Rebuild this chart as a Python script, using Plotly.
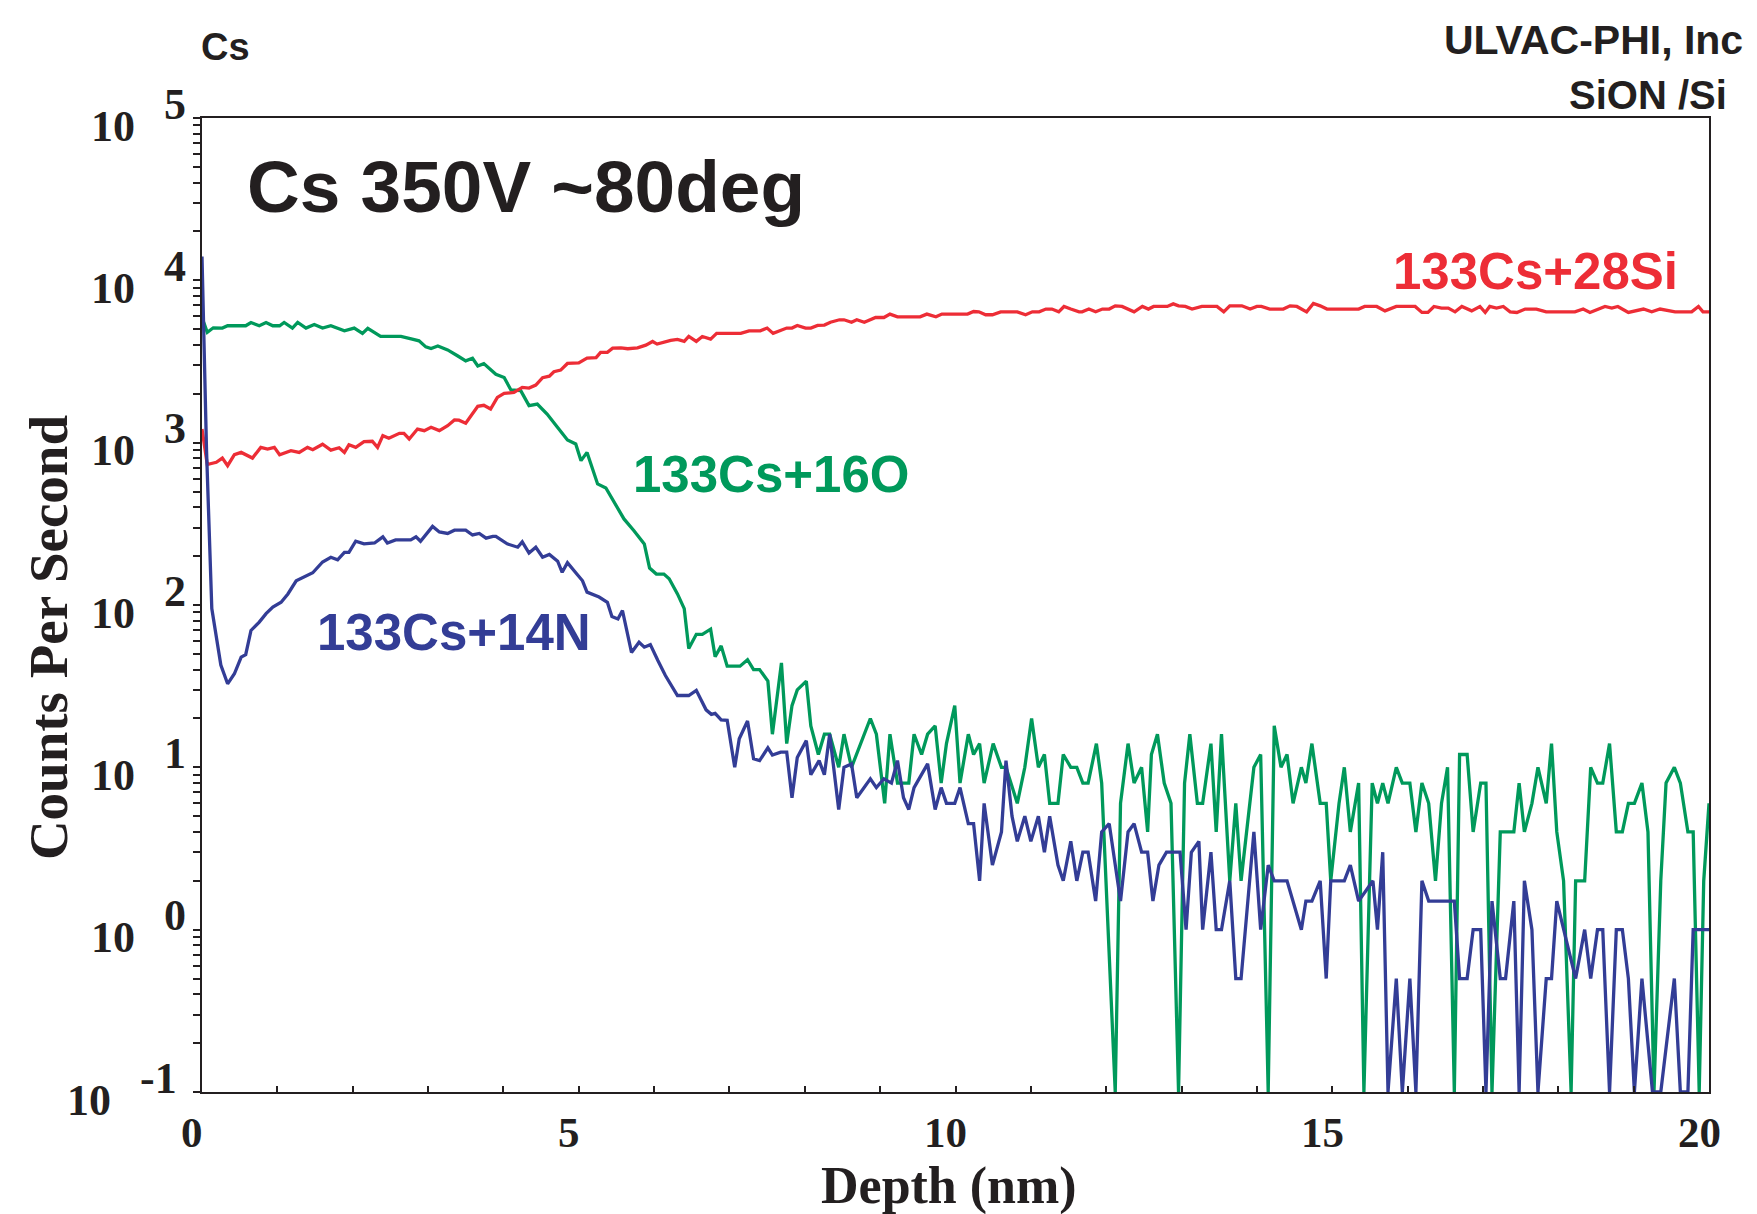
import plotly.graph_objects as go

# ---------------- data ----------------
red_depth = [0.00, 0.07, 0.19, 0.27, 0.34, 0.43, 0.52, 0.67, 0.78, 0.87, 0.96, 1.03, 1.18, 1.29, 1.40, 1.47,
             1.60, 1.71, 1.82, 1.89, 1.95, 2.04, 2.15, 2.26, 2.33, 2.40, 2.48, 2.62, 2.68, 2.75, 2.86, 2.95,
             3.04, 3.15, 3.26, 3.35, 3.41, 3.50, 3.66, 3.74, 3.83, 3.92, 4.01, 4.14, 4.25, 4.34, 4.43, 4.52,
             4.61, 4.67, 4.76, 4.85, 5.00, 5.11, 5.23, 5.29, 5.38, 5.45, 5.56, 5.65, 5.78, 5.89, 5.98, 6.04,
             6.22, 6.31, 6.40, 6.46, 6.56, 6.64, 6.75, 6.83, 7.15, 7.26, 7.41, 7.50, 7.58, 7.68, 7.76, 7.83,
             7.90, 8.01, 8.08, 8.17, 8.26, 8.34, 8.46, 8.52, 8.62, 8.69, 8.79, 8.94, 9.05, 9.13, 9.23, 9.53,
             9.62, 9.74, 9.82, 10.16, 10.24, 10.31, 10.40, 10.49, 10.60, 10.82, 10.93, 11.02, 11.11, 11.20,
             11.28, 11.37, 11.44, 11.53, 11.64, 11.68, 11.77, 11.86, 11.95, 12.04, 12.12, 12.21, 12.28, 12.37,
             12.48, 12.56, 12.63, 12.81, 12.89, 12.96, 13.05, 13.14, 13.27, 13.47, 13.56, 13.64, 13.80, 13.91,
             14.00, 14.06, 14.17, 14.35, 14.44, 14.53, 14.66, 14.75, 14.84, 14.93, 15.35, 15.43, 15.59, 15.70,
             15.85, 16.10, 16.19, 16.27, 16.35, 16.45, 16.54, 16.63, 16.72, 16.85, 16.96, 17.03, 17.09, 17.18,
             17.27, 17.36, 17.45, 17.56, 17.71, 17.84, 18.22, 18.33, 18.42, 18.53, 18.62, 18.71, 18.79, 18.93,
             19.04, 19.13, 19.24, 19.35, 19.55, 19.77, 19.86, 19.92, 20.00]
red_cps = [1213, 733, 757, 804, 721, 843, 871, 804, 935, 912, 935, 843, 892, 871, 935, 905,
           978, 900, 930, 871, 970, 935, 1014, 1020, 935, 1104, 1064, 1142, 1142, 1054, 1213, 1186,
           1243, 1186, 1273, 1380, 1375, 1318, 1675, 1700, 1612, 1900, 2010, 2040, 2190, 2170, 2265, 2515,
           2570, 2735, 2800, 3075, 3100, 3320, 3340, 3600, 3600, 3820, 3840, 3790, 3840, 3990, 4200, 4050,
           4270, 4330, 4210, 4510, 4207, 4508, 4345, 4710, 4710, 4887, 4887, 5080, 4710, 4887, 5080, 5080,
           5272, 5080, 5080, 5272, 5300, 5520, 5715, 5715, 5520, 5715, 5520, 5902, 5902, 6194, 5957, 5957,
           6194, 5957, 6194, 6194, 6427, 6400, 6138, 6138, 6397, 6397, 6138, 6397, 6397, 6653,
           6653, 6397, 6902, 6653, 6397, 6397, 6653, 6397, 6653, 6653, 6966, 6902, 6653, 6397,
           6902, 6653, 6902, 6902, 7161, 6966, 6902, 6653, 6902, 6902, 6397, 6966, 6966, 6653,
           6902, 6902, 6653, 6653, 6966, 6902, 6397, 7194, 6966, 6653, 6653, 6902, 6902, 6486,
           6902, 6902, 6339, 6339, 6902, 6745, 6745, 6397, 6902, 6486, 6902, 6339, 6902, 6745,
           6902, 6397, 6339, 6653, 6653, 6397, 6397, 6653, 6339, 6653, 6902, 6745, 6902, 6339,
           6486, 6653, 6397, 6653, 6397, 6397, 6902, 6397, 6397]

green_depth = [0.00, 0.07, 0.15, 0.27, 0.34, 0.58, 0.65, 0.76, 0.85, 0.94, 1.03, 1.09, 1.20, 1.27, 1.38, 1.49,
               1.60, 1.71, 1.89, 2.02, 2.13, 2.20, 2.37, 2.64, 2.79, 2.88, 2.97, 3.04, 3.13, 3.26, 3.39, 3.50,
               3.59, 3.66, 3.74, 3.90, 4.01, 4.10, 4.23, 4.34, 4.45, 4.58, 4.72, 4.85, 4.96, 5.03, 5.11, 5.25,
               5.36, 5.47, 5.60, 5.73, 5.87, 5.94, 6.03, 6.13, 6.20, 6.31, 6.40, 6.46, 6.56, 6.64, 6.75, 6.81,
               6.89, 6.97, 7.14, 7.24, 7.32, 7.40, 7.51, 7.57, 7.69, 7.76, 7.83, 7.90, 8.02, 8.08, 8.18, 8.26,
               8.33, 8.45, 8.52, 8.62, 8.87, 8.95, 9.06, 9.13, 9.23, 9.38, 9.45, 9.55, 9.63, 9.73, 9.81, 9.88,
               9.99, 10.06, 10.17, 10.24, 10.32, 10.38, 10.50, 10.61, 10.67, 10.82, 10.92, 11.01, 11.10, 11.18,
               11.25, 11.36, 11.43, 11.53, 11.61, 11.69, 11.76, 11.87, 11.94, 12.12, 12.19, 12.29, 12.37, 12.47,
               12.55, 12.60, 12.68, 12.77, 12.86, 12.96, 13.04, 13.11, 13.21, 13.28, 13.39, 13.46, 13.53, 13.64,
               13.72, 13.79, 13.90, 13.96, 14.05, 14.15, 14.23, 14.32, 14.40, 14.48, 14.59, 14.65, 14.73, 14.84,
               14.92, 14.98, 15.09, 15.16, 15.24, 15.35, 15.42, 15.53, 15.60, 15.67, 15.74, 15.85, 15.93, 16.03,
               16.11, 16.19, 16.28, 16.37, 16.45, 16.53, 16.62, 16.69, 16.79, 16.87, 16.97, 17.04, 17.12, 17.23,
               17.41, 17.48, 17.55, 17.65, 17.73, 17.84, 17.91, 17.98, 18.07, 18.17, 18.23, 18.35, 18.43, 18.52,
               18.59, 18.68, 18.77, 18.85, 18.93, 19.01, 19.11, 19.19, 19.27, 19.36, 19.43, 19.54, 19.62, 19.72,
               19.79, 19.87, 19.93, 20.00]
green_cps = [5900, 4780, 5100, 5080, 5250, 5250, 5500, 5250, 5500, 5250, 5250, 5500, 5080, 5500, 5080, 5350,
             5080, 5250, 4890, 5080, 4710, 5060, 4510, 4510, 4340, 4240, 3890, 3800, 3940, 3730, 3430, 3190,
             3310, 2970, 3070, 2640, 2520, 2110, 2090, 1690, 1730, 1500, 1240, 1040, 981, 775, 871, 557,
             526, 430, 339, 288, 238, 169, 155, 155, 145, 117, 95, 54, 66, 66, 71, 48,
             56, 42, 42, 46, 40, 40, 34, 16, 44, 14, 24, 30, 34, 18, 12, 16,
             16, 10, 16, 10, 20, 16, 6, 16, 8, 8, 16, 12, 16, 18, 8, 14,
             24, 8, 16, 12, 14, 8, 14, 10, 10, 6, 10, 20, 10, 12,
             6, 6, 12, 10, 10, 8, 8, 14, 8, 0, 6, 14, 8, 10,
             4, 12, 16, 8, 6, 0, 8, 16, 6, 6, 14, 4, 16, 2,
             6, 2, 6, 10, 12, 0, 18, 10, 12, 6, 10, 8, 14, 6,
             6, 2, 6, 10, 4, 8, 0, 8, 6, 8, 6, 10, 8, 8,
             4, 8, 6, 2, 6, 10, 0, 12, 12, 4, 8, 8, 0, 4,
             4, 8, 4, 6, 10, 6, 14, 4, 2, 0, 2, 2, 10, 8,
             8, 14, 4, 4, 6, 6, 8, 4, 0, 2, 8, 10, 8, 4,
             4, 0, 2, 6]

blue_depth = [0.00, 0.06, 0.13, 0.25, 0.34, 0.43, 0.52, 0.58, 0.65, 0.76, 0.85, 0.94, 1.05, 1.14, 1.25, 1.38,
              1.47, 1.60, 1.71, 1.80, 1.89, 1.95, 2.04, 2.15, 2.29, 2.40, 2.46, 2.57, 2.77, 2.84, 2.90, 3.06,
              3.15, 3.26, 3.35, 3.50, 3.59, 3.68, 3.77, 3.86, 3.90, 4.05, 4.19, 4.25, 4.34, 4.43, 4.52, 4.61,
              4.72, 4.78, 4.85, 4.98, 5.05, 5.11, 5.27, 5.38, 5.44, 5.52, 5.58, 5.70, 5.80, 5.87, 5.95, 6.05,
              6.15, 6.31, 6.46, 6.56, 6.69, 6.76, 6.81, 6.89, 6.97, 7.07, 7.13, 7.24, 7.32, 7.40, 7.51, 7.57,
              7.68, 7.76, 7.83, 7.90, 8.02, 8.08, 8.19, 8.26, 8.33, 8.45, 8.52, 8.62, 8.69, 8.87, 8.95, 9.05,
              9.15, 9.23, 9.31, 9.38, 9.45, 9.63, 9.73, 9.81, 9.88, 9.99, 10.06, 10.17, 10.24, 10.32, 10.38, 10.49,
              10.61, 10.67, 10.75, 10.82, 10.92, 11.00, 11.10, 11.18, 11.25, 11.36, 11.43, 11.53, 11.61, 11.69,
              11.76, 11.86, 11.94, 12.04, 12.19, 12.29, 12.37, 12.47, 12.55, 12.62, 12.70, 12.80, 12.98, 13.06,
              13.13, 13.23, 13.28, 13.39, 13.46, 13.53, 13.64, 13.72, 13.79, 13.96, 14.05, 14.15, 14.23, 14.40,
              14.48, 14.59, 14.65, 14.73, 14.84, 14.92, 14.98, 15.16, 15.24, 15.35, 15.54, 15.60, 15.67, 15.74,
              15.85, 15.93, 16.03, 16.11, 16.19, 16.28, 16.62, 16.69, 16.79, 16.87, 16.97, 17.04, 17.12, 17.23,
              17.30, 17.41, 17.48, 17.55, 17.65, 17.73, 17.84, 17.91, 17.98, 18.07, 18.23, 18.35, 18.43, 18.52,
              18.59, 18.68, 18.77, 18.85, 18.93, 19.01, 19.11, 19.25, 19.36, 19.54, 19.62, 19.72, 19.79, 20.00]
blue_cps = [14000, 900, 95, 42.7, 32.7, 37.7, 47.7, 49.5, 69.7, 78.5, 88.5, 97, 104, 117, 141, 151,
            158, 184, 197, 190, 211, 211, 247, 238, 241, 263, 241, 252, 252, 263, 247, 305,
            282, 276, 289, 289, 270, 276, 258, 265, 265, 238, 227, 245, 209, 227, 197, 205,
            186, 159, 182, 154, 141, 120, 112, 104, 85, 82, 92.5, 51, 59, 55, 57, 45.5,
            36.8, 27.7, 27.7, 29.8, 22.6, 21.2, 21.5, 19.6, 19.5, 10, 15, 19.3, 11.3, 11, 13.2, 11.9,
            12.4, 12.4, 6.5, 11.5, 14.6, 9, 11, 9, 16, 5.5, 10, 10.5, 6.5, 8.5, 7.5, 8.5,
            8, 11, 6.5, 5.5, 7.5, 10.5, 5.5, 7.5, 6, 6, 7.5, 4.5, 4.5, 2, 6, 2.5,
            4, 11, 5, 3.5, 5, 3.5, 5, 3, 5, 2.5, 2, 3.5, 2, 3,
            3, 1.5, 4, 4.5, 1.5, 4, 4.5, 3, 3, 1.5, 2.5, 3, 3, 1,
            3, 3.5, 1, 3, 1, 1, 2, 0.5, 0.5, 4, 1, 2.5, 2, 2,
            1.5, 1, 1.5, 1.5, 2, 0.5, 2, 2, 2.5, 1.5, 2, 1, 3, 0,
            0.5, 0, 0.5, 0, 2, 1.5, 1.5, 0.5, 0.5, 1, 1, 0, 1.5, 0.5,
            0.5, 1.5, 0, 2, 1, 0, 0.5, 0.5, 1.5, 1, 0.5, 1, 0.5, 1,
            1, 0, 1, 1, 0.5, 0, 0.5, 0, 0, 0.5, 0, 0, 1, 1]

series_names = ["133Cs+16O", "133Cs+28Si", "133Cs+14N"]
y_exponents = [-1, 0, 1, 2, 3, 4, 5]
x_tick_labels = [0, 5, 10, 15, 20]

# ---------------- styling ----------------
RED = "#ED2D36"
GREEN = "#00995B"
BLUE = "#333D96"
INK = "#231F20"
SANS = "Liberation Sans, Arial, sans-serif"
SERIF = "Liberation Serif, Times New Roman, serif"
FLOOR = 0.1  # zero-count points are drawn on the axis floor


def at_floor(vals):
    return [max(v, FLOOR) for v in vals]


fig = go.Figure()
for d, v, c in [(green_depth, green_cps, GREEN), (red_depth, red_cps, RED), (blue_depth, blue_cps, BLUE)]:
    fig.add_trace(go.Scatter(x=d, y=at_floor(v), mode="lines", line=dict(color=c, width=3.3),
                             showlegend=False, hoverinfo="skip"))

ytickvals = [m * 10.0 ** k for k in range(-1, 5) for m in range(1, 10)] + [1e5]

fig.update_layout(
    width=1757, height=1214,
    margin=dict(l=194, r=56, t=110, b=130),
    paper_bgcolor="white", plot_bgcolor="white",
    showlegend=False,
)
fig.update_xaxes(range=[0, 20], tickvals=list(range(0, 21)), ticks="inside", ticklen=6, tickwidth=1.5,
                 tickcolor=INK, showticklabels=False, showline=True, linecolor=INK, linewidth=2,
                 mirror=True, showgrid=False, zeroline=False)
fig.update_yaxes(type="log", range=[-1, 5], tickvals=ytickvals, ticks="outside", ticklen=7, tickwidth=1.5,
                 tickcolor=INK, showticklabels=False, showline=True, linecolor=INK, linewidth=2,
                 mirror=True, showgrid=False, zeroline=False)

ann = []
tick_font = dict(family=SERIF, size=44, color=INK, weight="bold")
for k in y_exponents:
    neg = k < 0
    ann.append(dict(text="10", xref="paper", x=0, yref="y", y=k, xanchor="right", yanchor="middle",
                    xshift=-89 if neg else -65, yshift=-8, showarrow=False, font=tick_font))
    ann.append(dict(text=str(k), xref="paper", x=0, yref="y", y=k, xanchor="left", yanchor="middle",
                    xshift=-64 if neg else -40, yshift=14, showarrow=False, font=tick_font))
for t in x_tick_labels:
    ann.append(dict(text=str(t), xref="x", x=t, yref="paper", y=0, xanchor="center", yanchor="middle",
                    xshift=-10, yshift=-40, showarrow=False, borderpad=0,
                    font=dict(family=SERIF, size=43, color=INK, weight="bold")))

# axis titles
ann.append(dict(text="Depth (nm)", xref="paper", x=0.496, yref="paper", y=0, yanchor="middle",
                yshift=-94, showarrow=False, borderpad=0,
                font=dict(family=SERIF, size=52, color=INK, weight="bold")))
ann.append(dict(text="Counts Per Second", xref="paper", x=0, xshift=-154, yref="paper", y=0.466,
                textangle=-90, xanchor="center", yanchor="middle", showarrow=False,
                font=dict(family=SERIF, size=55, color=INK, weight="bold")))

# header texts
ann.append(dict(text="Cs", xref="paper", x=0, xshift=-3, yref="paper", y=1, xanchor="left", yanchor="middle",
                yshift=71, showarrow=False, font=dict(family=SANS, size=38, color=INK, weight="bold")))
ann.append(dict(text="ULVAC-PHI, Inc", xref="paper", x=1, xshift=36, yref="paper", y=1, xanchor="right",
                yanchor="middle", yshift=78, showarrow=False,
                font=dict(family=SANS, size=41, color=INK, weight="bold")))
ann.append(dict(text="SiON /Si", xref="paper", x=1, xshift=20, yref="paper", y=1, xanchor="right",
                yanchor="middle", yshift=23, showarrow=False,
                font=dict(family=SANS, size=40, color=INK, weight="bold")))
ann.append(dict(text="Cs 350V ~80deg", xref="x", x=0.57, yref="y", y=4.575, xanchor="left",
                yanchor="middle", showarrow=False, font=dict(family=SANS, size=73, color=INK, weight="bold")))

# series labels
label_pos = [(7.55, 2.803, GREEN), (17.70, 4.055, RED), (3.34, 1.829, BLUE)]
for name, (lx, ly, c) in zip(series_names, label_pos):
    ann.append(dict(text=name, xref="x", x=lx, yref="y", y=ly, xanchor="center", yanchor="middle",
                    showarrow=False, font=dict(family=SANS, size=51, color=c, weight="bold")))

fig.update_layout(annotations=ann)
fig.write_html("out.html", config={"displayModeBar": False})
